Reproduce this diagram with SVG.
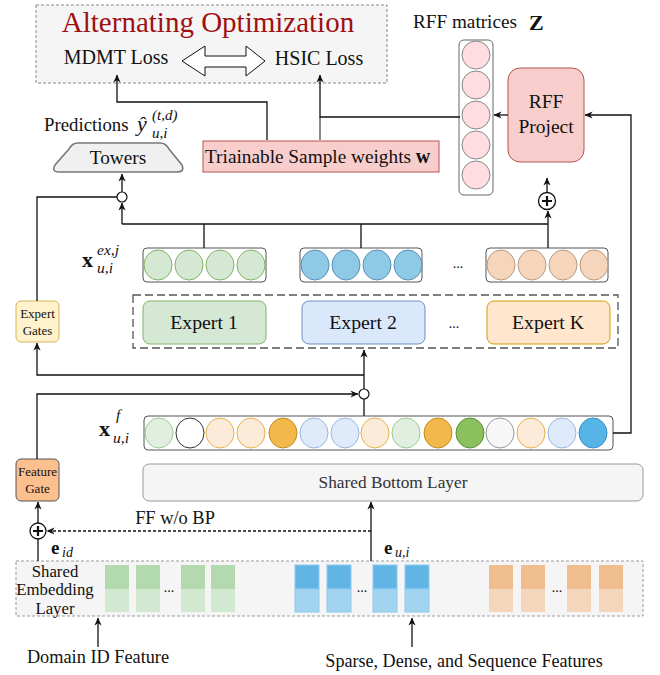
<svg xmlns="http://www.w3.org/2000/svg" width="660" height="675" viewBox="0 0 660 675">
<style>
text{font-family:"Liberation Serif","Times New Roman",serif;fill:#111}
.c{stroke:#111;stroke-width:1.3;fill:none}
.g{stroke:#666;stroke-width:1.5;fill:none}
.it{font-style:italic}
.b{font-weight:bold}
.gc{fill:#d5e8d4;stroke:#82b366}
.bc{fill:#8ecae6;stroke:#5a8fb8}
.oc{fill:#f5d5bc;stroke:#b89a80}
.rfc{fill:#ffdde0;stroke:#888}
</style>
<defs>
<marker id="a" viewBox="0 0 10 10" refX="9.5" refY="5" markerWidth="8" markerHeight="8" markerUnits="userSpaceOnUse" orient="auto"><path d="M0,0.5 L10,5 L0,9.5 L3,5 z" fill="#111"/></marker>
</defs>

<g id="opt">
<rect x="36" y="5" width="351" height="78" fill="#f5f5f5" stroke="#888" stroke-dasharray="3,2"/>
<text x="208" y="32" font-size="29" text-anchor="middle" style="fill:#a01010">Alternating Optimization</text>
<text x="116" y="64" font-size="20" text-anchor="middle">MDMT Loss</text>
<text x="319" y="65" font-size="20" text-anchor="middle">HSIC Loss</text>
<polygon points="182,61 205,46 205,56 246,56 246,46 265,61 246,76 246,67 205,67 205,76" fill="#fff" stroke="#111" stroke-width="1"/>
</g>

<g id="predictions">
<text x="44" y="131" font-size="18.8">Predictions</text>
<text x="137" y="131" font-size="22" class="it">ŷ</text>
<text x="152" y="120" font-size="15" class="it">(t,d)</text>
<text x="152" y="138" font-size="15" class="it">u,i</text>
</g>

<g id="towers">
<path d="M78,143 L160,143 Q166,143 169,149 L182,165 Q185,172 177,172 L59,172 Q51,172 55,165 L69,149 Q72,143 78,143 Z" fill="#f0f0f0" stroke="#777" stroke-width="1.5"/>
<text x="118" y="164" font-size="19.3" text-anchor="middle">Towers</text>
</g>

<g id="weights">
<rect x="203" y="141" width="236" height="31" fill="#f8cecc" stroke="#b85450"/>
<text x="205" y="163" font-size="19.3">Triainable Sample weights <tspan class="b" font-size="20">w</tspan></text>
</g>

<g id="rff-matrices">
<text x="413" y="28" font-size="19.2">RFF matrices</text>
<text x="529" y="30" font-size="22" class="b">Z</text>
<rect x="459" y="40" width="34" height="155" rx="5" fill="#fff" stroke="#666"/>
<circle cx="476" cy="55" r="14" class="rfc"/>
<circle cx="476" cy="85" r="14" class="rfc"/>
<circle cx="476" cy="115" r="14" class="rfc"/>
<circle cx="476" cy="145" r="14" class="rfc"/>
<circle cx="476" cy="175" r="14" class="rfc"/>
</g>

<g id="rff-project">
<rect x="508" y="68" width="76" height="94" rx="12" fill="#f8cecc" stroke="#b85450"/>
<text x="546" y="108" font-size="19.5" text-anchor="middle">RFF</text>
<text x="546" y="133" font-size="19.5" text-anchor="middle">Project</text>
</g>

<g id="expert-gates">
<rect x="16" y="301" width="43" height="41" rx="5" fill="#fff2cc" stroke="#d6b656"/>
<text x="37.5" y="318" font-size="13" text-anchor="middle">Expert</text>
<text x="37.5" y="335" font-size="13" text-anchor="middle">Gates</text>
</g>

<g id="expert-outputs">
<text x="82" y="267" font-size="22" class="b">x</text>
<text x="97" y="255" font-size="15.5" class="it">ex,j</text>
<text x="97" y="273" font-size="15.5" class="it">u,i</text>
<rect x="143" y="248" width="123" height="34" rx="4" fill="#fff" stroke="#555"/>
<ellipse cx="158" cy="265" rx="14" ry="15" class="gc"/>
<ellipse cx="189" cy="265" rx="14" ry="15" class="gc"/>
<ellipse cx="220" cy="265" rx="14" ry="15" class="gc"/>
<ellipse cx="251" cy="265" rx="14" ry="15" class="gc"/>
<rect x="300" y="248" width="122" height="34" rx="4" fill="#fff" stroke="#555"/>
<ellipse cx="315" cy="265" rx="14" ry="15" class="bc"/>
<ellipse cx="346" cy="265" rx="14" ry="15" class="bc"/>
<ellipse cx="377" cy="265" rx="14" ry="15" class="bc"/>
<ellipse cx="408" cy="265" rx="14" ry="15" class="bc"/>
<text x="458" y="268" font-size="14" text-anchor="middle">...</text>
<rect x="486" y="248" width="122" height="34" rx="4" fill="#fff" stroke="#555"/>
<ellipse cx="501" cy="265" rx="14" ry="15" class="oc"/>
<ellipse cx="532" cy="265" rx="14" ry="15" class="oc"/>
<ellipse cx="563" cy="265" rx="14" ry="15" class="oc"/>
<ellipse cx="594" cy="265" rx="14" ry="15" class="oc"/>
</g>

<g id="experts">
<rect x="133" y="295" width="485" height="53" fill="none" stroke="#555" stroke-width="1.3" stroke-dasharray="8,4"/>
<rect x="143" y="301" width="123" height="43" rx="7" fill="#d5e8d4" stroke="#82b366"/>
<text x="204" y="329" font-size="19.8" text-anchor="middle">Expert 1</text>
<rect x="302" y="301" width="123" height="43" rx="7" fill="#dae8fc" stroke="#6c8ebf"/>
<text x="363" y="329" font-size="19.8" text-anchor="middle">Expert 2</text>
<text x="454" y="328" font-size="14" text-anchor="middle">...</text>
<rect x="487" y="301" width="123" height="43" rx="7" fill="#ffe6cc" stroke="#d79b00"/>
<text x="548" y="329" font-size="19.8" text-anchor="middle">Expert K</text>
</g>

<g id="feature-row">
<text x="99" y="436" font-size="22" class="b">x</text>
<text x="116" y="420" font-size="15.5" class="it">f</text>
<text x="113" y="443" font-size="15.5" class="it">u,i</text>
<rect x="144" y="416" width="469" height="34" rx="4" fill="#fff" stroke="#555"/>
<ellipse cx="159" cy="433" rx="14" ry="15" fill="#e1efe0" stroke="#9ccb94"/>
<ellipse cx="190" cy="433" rx="14" ry="15" fill="#fff" stroke="#333"/>
<ellipse cx="220" cy="433" rx="14" ry="15" fill="#fdebd9" stroke="#e6b14d"/>
<ellipse cx="251" cy="433" rx="14" ry="15" fill="#fdebd9" stroke="#e6b14d"/>
<ellipse cx="283" cy="433" rx="14" ry="15" fill="#f2b84b" stroke="#c48a1c"/>
<ellipse cx="314" cy="433" rx="14" ry="15" fill="#dfeafb" stroke="#9db7e0"/>
<ellipse cx="345" cy="433" rx="14" ry="15" fill="#dfeafb" stroke="#9db7e0"/>
<ellipse cx="375" cy="433" rx="14" ry="15" fill="#fdebd9" stroke="#e6b14d"/>
<ellipse cx="406" cy="433" rx="14" ry="15" fill="#e1efe0" stroke="#9ccb94"/>
<ellipse cx="438" cy="433" rx="14" ry="15" fill="#f2b84b" stroke="#c48a1c"/>
<ellipse cx="470" cy="433" rx="14" ry="15" fill="#8cc05c" stroke="#5d8f3a"/>
<ellipse cx="500" cy="433" rx="14" ry="15" fill="#f7f7f7" stroke="#999"/>
<ellipse cx="531" cy="433" rx="14" ry="15" fill="#fdebd9" stroke="#e6b14d"/>
<ellipse cx="562" cy="433" rx="14" ry="15" fill="#dfeafb" stroke="#9db7e0"/>
<ellipse cx="593" cy="433" rx="14" ry="15" fill="#56b4e6" stroke="#3a8cc8"/>
</g>

<g id="feature-gate">
<rect x="16" y="459" width="43" height="42" rx="5" fill="#fbc08e" stroke="#555"/>
<text x="37.5" y="476" font-size="13" text-anchor="middle">Feature</text>
<text x="37.5" y="493" font-size="13" text-anchor="middle">Gate</text>
</g>

<g id="shared-bottom">
<rect x="143" y="464" width="500" height="37" rx="6" fill="#f5f5f5" stroke="#999"/>
<text x="393" y="488" font-size="17.3" text-anchor="middle" style="fill:#333">Shared Bottom Layer</text>
</g>

<g id="embedding">
<rect x="16" y="561" width="627" height="55" fill="#f5f5f5" stroke="#999" stroke-dasharray="3,2"/>
<text x="55" y="577" font-size="16.8" text-anchor="middle">Shared</text>
<text x="55" y="595" font-size="16.8" text-anchor="middle">Embedding</text>
<text x="55" y="614" font-size="16.8" text-anchor="middle">Layer</text>
<g fill="#b3d9ae"><rect x="105" y="565" width="24" height="24"/><rect x="136" y="565" width="24" height="24"/><rect x="181" y="565" width="24" height="24"/><rect x="211" y="565" width="24" height="24"/></g>
<g fill="#d3e8d0"><rect x="105" y="589" width="24" height="23"/><rect x="136" y="589" width="24" height="23"/><rect x="181" y="589" width="24" height="23"/><rect x="211" y="589" width="24" height="23"/></g>
<text x="169" y="592" font-size="14" text-anchor="middle">...</text>
<g fill="#60b5e5" stroke="#8ccaf0"><rect x="295" y="565" width="24" height="24"/><rect x="327" y="565" width="24" height="24"/><rect x="373" y="565" width="24" height="24"/><rect x="405" y="565" width="24" height="24"/></g>
<g fill="#a2d3ef" stroke="#8ccaf0"><rect x="295" y="589" width="24" height="23"/><rect x="327" y="589" width="24" height="23"/><rect x="373" y="589" width="24" height="23"/><rect x="405" y="589" width="24" height="23"/></g>
<text x="362" y="592" font-size="14" text-anchor="middle">...</text>
<g fill="#efbd8e"><rect x="489" y="565" width="24" height="24"/><rect x="521" y="565" width="24" height="24"/><rect x="567" y="565" width="24" height="24"/><rect x="599" y="565" width="24" height="24"/></g>
<g fill="#f3d6bc"><rect x="489" y="589" width="24" height="23"/><rect x="521" y="589" width="24" height="23"/><rect x="567" y="589" width="24" height="23"/><rect x="599" y="589" width="24" height="23"/></g>
<text x="557" y="592" font-size="14" text-anchor="middle">...</text>
</g>

<g id="inputs">
<text x="98" y="663" font-size="18.3" text-anchor="middle">Domain ID Feature</text>
<text x="464" y="667" font-size="18.1" text-anchor="middle">Sparse, Dense, and Sequence Features</text>
</g>

<g id="connectors">
<path class="c" d="M267,140 V102 H117 V75" marker-end="url(#a)"/>
<path class="g" d="M320,140 V117"/>
<path class="c" d="M460,117 H320 V75" marker-end="url(#a)"/>
<path class="c" d="M508,115 H494" marker-end="url(#a)"/>
<path class="c" d="M613,433 H631 V115 H585" marker-end="url(#a)"/>
<circle cx="122" cy="197" r="5" fill="#fff" stroke="#111" stroke-width="1.2"/>
<path class="c" d="M122,192 V174" marker-end="url(#a)"/>
<path class="c" d="M37,301 V197 H117"/>
<path class="c" d="M122,224 V203" marker-end="url(#a)"/>
<path class="c" d="M122,224 H548"/>
<path class="c" d="M204,224 V248 M361,224 V248 M548,248 V224"/>
<path class="c" d="M548,224 V211" marker-end="url(#a)"/>
<circle cx="547" cy="201" r="8.5" fill="#fff" stroke="#111" stroke-width="1.3"/>
<path d="M542,201 H552 M547,196 V206" stroke="#111" stroke-width="2.2"/>
<path class="c" d="M547,192 V178" marker-end="url(#a)"/>
<circle cx="364" cy="394" r="5" fill="#fff" stroke="#111" stroke-width="1.2"/>
<path class="c" d="M364,416 V399"/>
<path class="c" d="M364,389 V350" marker-end="url(#a)"/>
<path class="c" d="M364,375 H37 V343" marker-end="url(#a)"/>
<path class="c" d="M37,459 V394 H358" marker-end="url(#a)"/>
<circle cx="38" cy="531" r="8" fill="#fff" stroke="#111" stroke-width="1.3"/>
<path d="M33,531 H43 M38,526 V536" stroke="#111" stroke-width="2.2"/>
<path class="c" d="M38,523 V502" marker-end="url(#a)"/>
<path class="c" d="M38,561 V539"/>
<path class="c" d="M371,531 H47" stroke-dasharray="3,2" marker-end="url(#a)"/>
<path class="c" d="M371,561 V502" marker-end="url(#a)"/>
<path class="c" d="M98,647 V618" marker-end="url(#a)"/>
<path class="c" d="M412,647 V618" marker-end="url(#a)"/>
<text x="175" y="524" font-size="18.4" text-anchor="middle">FF w/o BP</text>
<text x="51" y="554" font-size="19" class="b">e</text>
<text x="62" y="557" font-size="14" class="it">id</text>
<text x="384" y="554" font-size="19" class="b">e</text>
<text x="395" y="557" font-size="14" class="it">u,i</text>
</g>
</svg>
